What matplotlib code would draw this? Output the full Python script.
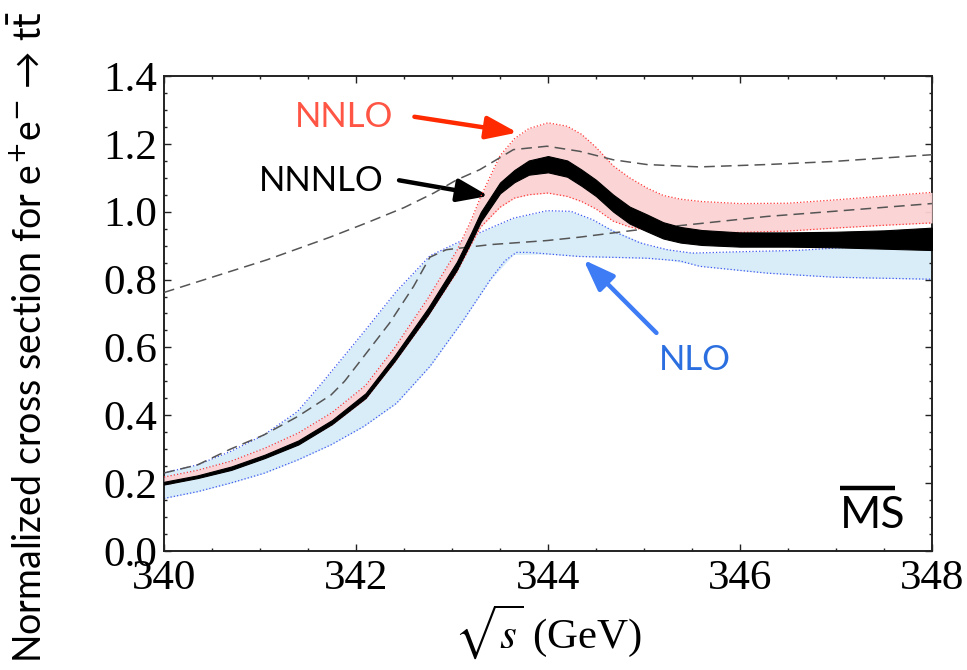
import numpy as np
import matplotlib
matplotlib.use('Agg')
import matplotlib.pyplot as plt
from matplotlib.ticker import MultipleLocator

nnnlo_x = [340, 340.35, 340.7, 341.05, 341.4, 341.75, 342.1, 342.4, 342.75, 343.05, 343.2,
           343.3, 343.5, 343.65, 343.8, 344.0, 344.2, 344.35, 344.5, 344.68, 344.85, 345.03,
           345.2, 345.38, 345.6, 346, 346.5, 347, 347.5, 348]
nnnlo_lo = [0.196, 0.215, 0.239, 0.274, 0.314, 0.374, 0.451, 0.559, 0.696, 0.828, 0.912,
            0.971, 1.054, 1.087, 1.109, 1.116, 1.103, 1.076, 1.046, 1.000, 0.965, 0.942,
            0.921, 0.909, 0.902, 0.897, 0.897, 0.895, 0.891, 0.887]
nnnlo_hi = [0.204, 0.223, 0.249, 0.284, 0.326, 0.386, 0.465, 0.575, 0.716, 0.852, 0.938,
            0.999, 1.086, 1.123, 1.151, 1.164, 1.151, 1.124, 1.094, 1.050, 1.015, 0.992,
            0.969, 0.955, 0.946, 0.939, 0.939, 0.941, 0.945, 0.953]

nnlo_x = nnnlo_x
nnlo_hi = [0.218, 0.238, 0.265, 0.303, 0.348, 0.408, 0.488, 0.598, 0.745, 0.885, 0.975,
           1.045, 1.165, 1.215, 1.245, 1.262, 1.252, 1.228, 1.190, 1.135, 1.100, 1.070,
           1.048, 1.037, 1.030, 1.024, 1.025, 1.035, 1.046, 1.057]
nnlo_lo = [0.196, 0.215, 0.239, 0.274, 0.314, 0.372, 0.448, 0.555, 0.692, 0.822, 0.903,
           0.955, 1.013, 1.040, 1.050, 1.055, 1.045, 1.030, 1.008, 0.972, 0.955, 0.945,
           0.938, 0.937, 0.937, 0.939, 0.943, 0.952, 0.960, 0.967]

nlo_hi_x = [340, 340.35, 340.69, 341.04, 341.39, 341.63, 342.08, 342.42, 342.77, 343.05, 343.4,
            343.64, 343.99, 344.24, 344.47, 344.68, 344.96, 345.24, 345.5, 346, 346.6, 347.3, 348]
nlo_hi = [0.230, 0.254, 0.293, 0.342, 0.411, 0.490, 0.645, 0.765, 0.870, 0.908, 0.952,
          0.981, 1.003, 1.001, 0.976, 0.942, 0.908, 0.888, 0.878, 0.882, 0.886, 0.898, 0.909]
nlo_lo_x = [340, 340.35, 340.69, 341.04, 341.39, 341.74, 342.08, 342.42, 342.77, 343.12, 343.4,
            343.55, 343.67, 343.8, 344.33, 345.03, 345.375, 345.58, 346.28, 346.97, 348]
nlo_lo = [0.155, 0.175, 0.200, 0.229, 0.268, 0.313, 0.367, 0.435, 0.544, 0.681, 0.800,
          0.855, 0.880, 0.880, 0.868, 0.863, 0.855, 0.839, 0.819, 0.807, 0.801]

dash_lo_x = [340, 340.35, 340.69, 341.04, 341.39, 341.74, 341.88, 342.08, 342.35, 342.6, 342.77,
             342.94, 343.4, 343.99, 344.33, 344.89, 345.58, 346.28, 346.97, 348]
dash_lo = [0.230, 0.254, 0.300, 0.342, 0.396, 0.460, 0.500, 0.573, 0.672, 0.780, 0.866,
           0.888, 0.903, 0.915, 0.925, 0.945, 0.965, 0.986, 1.001, 1.024]
dash_hi_x = [340, 341.07, 341.73, 342.11, 342.5, 342.81, 343.05, 343.29, 343.64, 343.99, 344.33,
             344.68, 345.03, 345.58, 346.28, 346.97, 348]
dash_hi = [0.762, 0.858, 0.925, 0.967, 1.012, 1.055, 1.094, 1.124, 1.183, 1.193, 1.178,
           1.153, 1.139, 1.132, 1.139, 1.148, 1.168]

xticks = [340, 342, 344, 346, 348]
yticks = [0.0, 0.2, 0.4, 0.6, 0.8, 1.0, 1.2, 1.4]

fig = plt.figure(figsize=(9.67, 6.7), dpi=100)
ax = fig.add_axes([0.1696, 0.1776, 0.7942, 0.709])

# NLO band
ax.fill_between(nlo_hi_x, nlo_hi, np.interp(nlo_hi_x, nlo_lo_x, nlo_lo),
                color='#d9edf9', lw=0, zorder=1)
ax.fill_between(nlo_lo_x, np.interp(nlo_lo_x, nlo_hi_x, nlo_hi), nlo_lo,
                color='#d9edf9', lw=0, zorder=1)
ax.plot(nlo_hi_x, nlo_hi, ls=':', color='#4058f0', lw=0.9, zorder=2)
ax.plot(nlo_lo_x, nlo_lo, ls=':', color='#4058f0', lw=0.9, zorder=2)

# NNLO band
ax.fill_between(nnlo_x, nnlo_lo, nnlo_hi, color='#fbd2d3', alpha=0.95, lw=0, zorder=3)
ax.plot(nnlo_x, nnlo_hi, ls=':', color='#ff3a3a', lw=0.9, zorder=4)
ax.plot(nnlo_x, nnlo_lo, ls=':', color='#ff3a3a', lw=0.9, zorder=4)

# dashed reference curves
ax.plot(dash_lo_x, dash_lo, color='#555555', lw=1.1, dashes=(7, 4), zorder=5)
ax.plot(dash_hi_x, dash_hi, color='#555555', lw=1.1, dashes=(7, 4), zorder=5)

# NNNLO band
ax.fill_between(nnnlo_x, nnnlo_lo, nnnlo_hi, color='black', lw=0.8, edgecolor='black', zorder=6)

ax.set_xlim(340, 348)
ax.set_ylim(0, 1.4)
ax.set_xticks(xticks)
ax.set_yticks(yticks)
ax.set_xticklabels([str(t) for t in xticks])
ax.set_yticklabels(['%.1f' % t for t in yticks])
ax.xaxis.set_minor_locator(MultipleLocator(0.5))
ax.yaxis.set_minor_locator(MultipleLocator(0.05))
ax.tick_params(which='both', direction='in', top=True, right=True, width=1.0, color='#222222')
ax.tick_params(which='major', length=5)
ax.tick_params(which='minor', length=2.5)
ax.tick_params(axis='x', pad=6)
ax.tick_params(axis='y', pad=5)
for lab in ax.get_xticklabels() + ax.get_yticklabels():
    lab.set_fontfamily('Liberation Serif')
    lab.set_fontsize(31)
for sp in ax.spines.values():
    sp.set_linewidth(1.4)
    sp.set_color('#222222')

sans = ['Lato', 'DejaVu Sans']
head = '-|>,head_length=1.9,head_width=0.7'

# annotations
ax.text(341.88, 1.280, 'NNLO', color='#ff5545', fontsize=25, family=sans, ha='center', va='center')
ax.annotate('', xy=(343.71, 1.232), xytext=(342.58, 1.281),
            arrowprops=dict(arrowstyle=head, lw=3.2, color='#ff2a00'))
ax.text(341.64, 1.091, 'NNNLO', color='black', fontsize=25, family=sans, ha='center', va='center')
ax.annotate('', xy=(343.41, 1.045), xytext=(342.42, 1.094),
            arrowprops=dict(arrowstyle=head, lw=3.2, color='black'))
ax.text(345.53, 0.563, 'NLO', color='#2a6ee0', fontsize=25, family=sans, ha='center', va='center')
ax.annotate('', xy=(344.35, 0.864), xytext=(345.15, 0.637),
            arrowprops=dict(arrowstyle=head, lw=3.2, color='#3d7cf5'))

# MS-bar label
ax.text(347.38, 0.105, 'MS', color='black', fontsize=32, family=sans, ha='center', va='center')
ax.plot([0.880, 0.952], [0.1326, 0.1326], transform=ax.transAxes, color='black', lw=3.2,
        solid_capstyle='butt', clip_on=False)

fig.text(0.031, 0.497, r'Normalized cross section for e$^{+}$e$^{-}$ → t$\bar{\rm t}$',
         rotation=90, ha='center', va='center', fontsize=27, family=sans, math_fontfamily='dejavusans')
fig.text(0.567, 0.057, r'$\sqrt{s}$ (GeV)', ha='center', va='center', fontsize=31,
         family='Liberation Serif', math_fontfamily='stix')

fig.savefig('out.png', dpi=100)
